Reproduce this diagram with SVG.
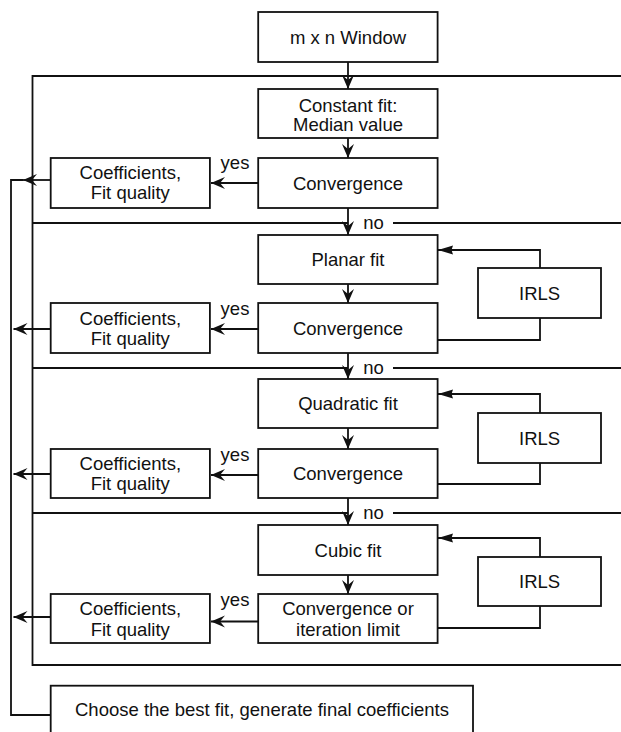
<svg xmlns="http://www.w3.org/2000/svg" width="621" height="732" viewBox="0 0 621 732">
  <style>
    .box { fill: #fff; stroke: #111; stroke-width: 1.8; }
    .ln { fill: none; stroke: #111; stroke-width: 1.8; }
    text { font-family: "Liberation Sans", Arial, Helvetica, sans-serif; font-size: 18.5px; fill: #111; text-anchor: middle; }
    .bg { fill: #fff; stroke: none; }
  </style>
  <defs>
    <marker id="barb" markerUnits="userSpaceOnUse" markerWidth="16" markerHeight="14" refX="14" refY="6" orient="auto" overflow="visible">
      <path d="M0,0 L14,6 L0,12 L5,6 z" fill="#111"/>
    </marker>
    <marker id="tri" markerUnits="userSpaceOnUse" markerWidth="16" markerHeight="12" refX="15" refY="4.5" orient="auto" overflow="visible">
      <path d="M0,0 L15,4.5 L0,9 L1.5,4.5 z" fill="#111"/>
    </marker>
  </defs>
  <rect width="621" height="732" fill="#fff"/>

  <g id="connectors">
    <!-- outer frame -->
    <path class="ln" d="M621,76 H32.5 V665 H621"/>
    <!-- "no" separator lines -->
    <path class="ln" d="M32.5,223 H348 M393,223 H621"/>
    <path class="ln" d="M32.5,368 H348 M393,368 H621"/>
    <path class="ln" d="M32.5,513 H348 M393,513 H621"/>
    <!-- main column down arrows -->
    <path class="ln" marker-end="url(#barb)" d="M348,62 V89"/>
    <path class="ln" marker-end="url(#barb)" d="M348,138 V158"/>
    <path class="ln" marker-end="url(#barb)" d="M348,208 V235"/>
    <path class="ln" marker-end="url(#barb)" d="M348,284 V303"/>
    <path class="ln" marker-end="url(#barb)" d="M348,353 V379"/>
    <path class="ln" marker-end="url(#barb)" d="M348,428 V449"/>
    <path class="ln" marker-end="url(#barb)" d="M348,498 V525"/>
    <path class="ln" marker-end="url(#barb)" d="M348,575 V594"/>
    <!-- yes arrows -->
    <path class="ln" marker-end="url(#barb)" d="M258,183 H211"/>
    <path class="ln" marker-end="url(#barb)" d="M258,329 H211"/>
    <path class="ln" marker-end="url(#barb)" d="M258,475 H211"/>
    <path class="ln" marker-end="url(#barb)" d="M258,621.5 H211"/>
    <!-- coefficients to return line -->
    <path class="ln" marker-end="url(#barb)" d="M51,180 H23"/>
    <path class="ln" d="M23,180 H11 V715 H51"/>
    <path class="ln" marker-end="url(#barb)" d="M51,329 H13.5"/>
    <path class="ln" marker-end="url(#barb)" d="M51,474 H13.5"/>
    <path class="ln" marker-end="url(#barb)" d="M51,617 H13.5"/>
    <!-- IRLS loops -->
    <path class="ln" marker-end="url(#tri)" d="M540,268 V250 H438"/>
    <path class="ln" d="M438,340 H540 V318"/>
    <path class="ln" marker-end="url(#tri)" d="M540,413 V394 H438"/>
    <path class="ln" d="M438,484 H540 V463"/>
    <path class="ln" marker-end="url(#tri)" d="M540,557 V538 H438"/>
    <path class="ln" d="M438,628 H540 V606"/>
    <!-- labels -->
    <text x="373.5" y="229">no</text>
    <text x="373.5" y="374">no</text>
    <text x="373.5" y="519">no</text>
  </g>

  <g id="window">
    <rect class="box" x="258.2" y="12" width="179.4" height="50"/>
    <text x="348" y="43.5">m x n Window</text>
  </g>
  <g id="constant-fit">
    <rect class="box" x="258.2" y="89" width="179.4" height="49"/>
    <text x="348" y="111.5">Constant fit:</text>
    <text x="348" y="131">Median value</text>
  </g>
  <g id="convergence-1">
    <rect class="box" x="258.2" y="158" width="179.4" height="50"/>
    <text x="348" y="189.5">Convergence</text>
  </g>
  <g id="coefficients-1">
    <rect class="box" x="50.7" y="158" width="159.2" height="50"/>
    <text x="130.3" y="179">Coefficients,</text>
    <text x="130.3" y="199">Fit quality</text>
  </g>
  <g id="yes-1">
    <rect class="bg" x="211" y="156" width="45" height="16"/>
    <text x="235" y="169">yes</text>
  </g>

  <g id="planar-fit">
    <rect class="box" x="258.2" y="235" width="179.4" height="49"/>
    <text x="348" y="266">Planar fit</text>
  </g>
  <g id="irls-1">
    <rect class="box" x="478" y="268" width="123" height="50"/>
    <text x="539.6" y="299.5">IRLS</text>
  </g>
  <g id="convergence-2">
    <rect class="box" x="258.2" y="303" width="179.4" height="50"/>
    <text x="348" y="334.5">Convergence</text>
  </g>
  <g id="coefficients-2">
    <rect class="box" x="50.7" y="303" width="159.2" height="50"/>
    <text x="130.3" y="324.5">Coefficients,</text>
    <text x="130.3" y="344.5">Fit quality</text>
  </g>
  <g id="yes-2">
    <rect class="bg" x="211" y="301" width="45" height="16"/>
    <text x="235" y="315">yes</text>
  </g>

  <g id="quadratic-fit">
    <rect class="box" x="258.2" y="379" width="179.4" height="49"/>
    <text x="348" y="410">Quadratic fit</text>
  </g>
  <g id="irls-2">
    <rect class="box" x="478" y="413" width="123" height="50"/>
    <text x="539.6" y="444.5">IRLS</text>
  </g>
  <g id="convergence-3">
    <rect class="box" x="258.2" y="449" width="179.4" height="49"/>
    <text x="348" y="480">Convergence</text>
  </g>
  <g id="coefficients-3">
    <rect class="box" x="50.7" y="449" width="159.2" height="49"/>
    <text x="130.3" y="470">Coefficients,</text>
    <text x="130.3" y="490">Fit quality</text>
  </g>
  <g id="yes-3">
    <rect class="bg" x="211" y="447" width="45" height="16"/>
    <text x="235" y="461">yes</text>
  </g>

  <g id="cubic-fit">
    <rect class="box" x="258.2" y="525" width="179.4" height="50"/>
    <text x="348" y="556.5">Cubic fit</text>
  </g>
  <g id="irls-3">
    <rect class="box" x="478" y="557" width="123" height="49"/>
    <text x="539.6" y="588">IRLS</text>
  </g>
  <g id="convergence-4">
    <rect class="box" x="258.2" y="594" width="179.4" height="49"/>
    <text x="348" y="615">Convergence or</text>
    <text x="348" y="636">iteration limit</text>
  </g>
  <g id="coefficients-4">
    <rect class="box" x="50.7" y="594" width="159.2" height="49"/>
    <text x="130.3" y="615">Coefficients,</text>
    <text x="130.3" y="636">Fit quality</text>
  </g>
  <g id="yes-4">
    <rect class="bg" x="211" y="592" width="45" height="16"/>
    <text x="235" y="606">yes</text>
  </g>

  <g id="choose-best">
    <rect class="box" x="50.7" y="685.7" width="422.3" height="52"/>
    <text x="262" y="716">Choose the best fit, generate final coefficients</text>
  </g>
</svg>
